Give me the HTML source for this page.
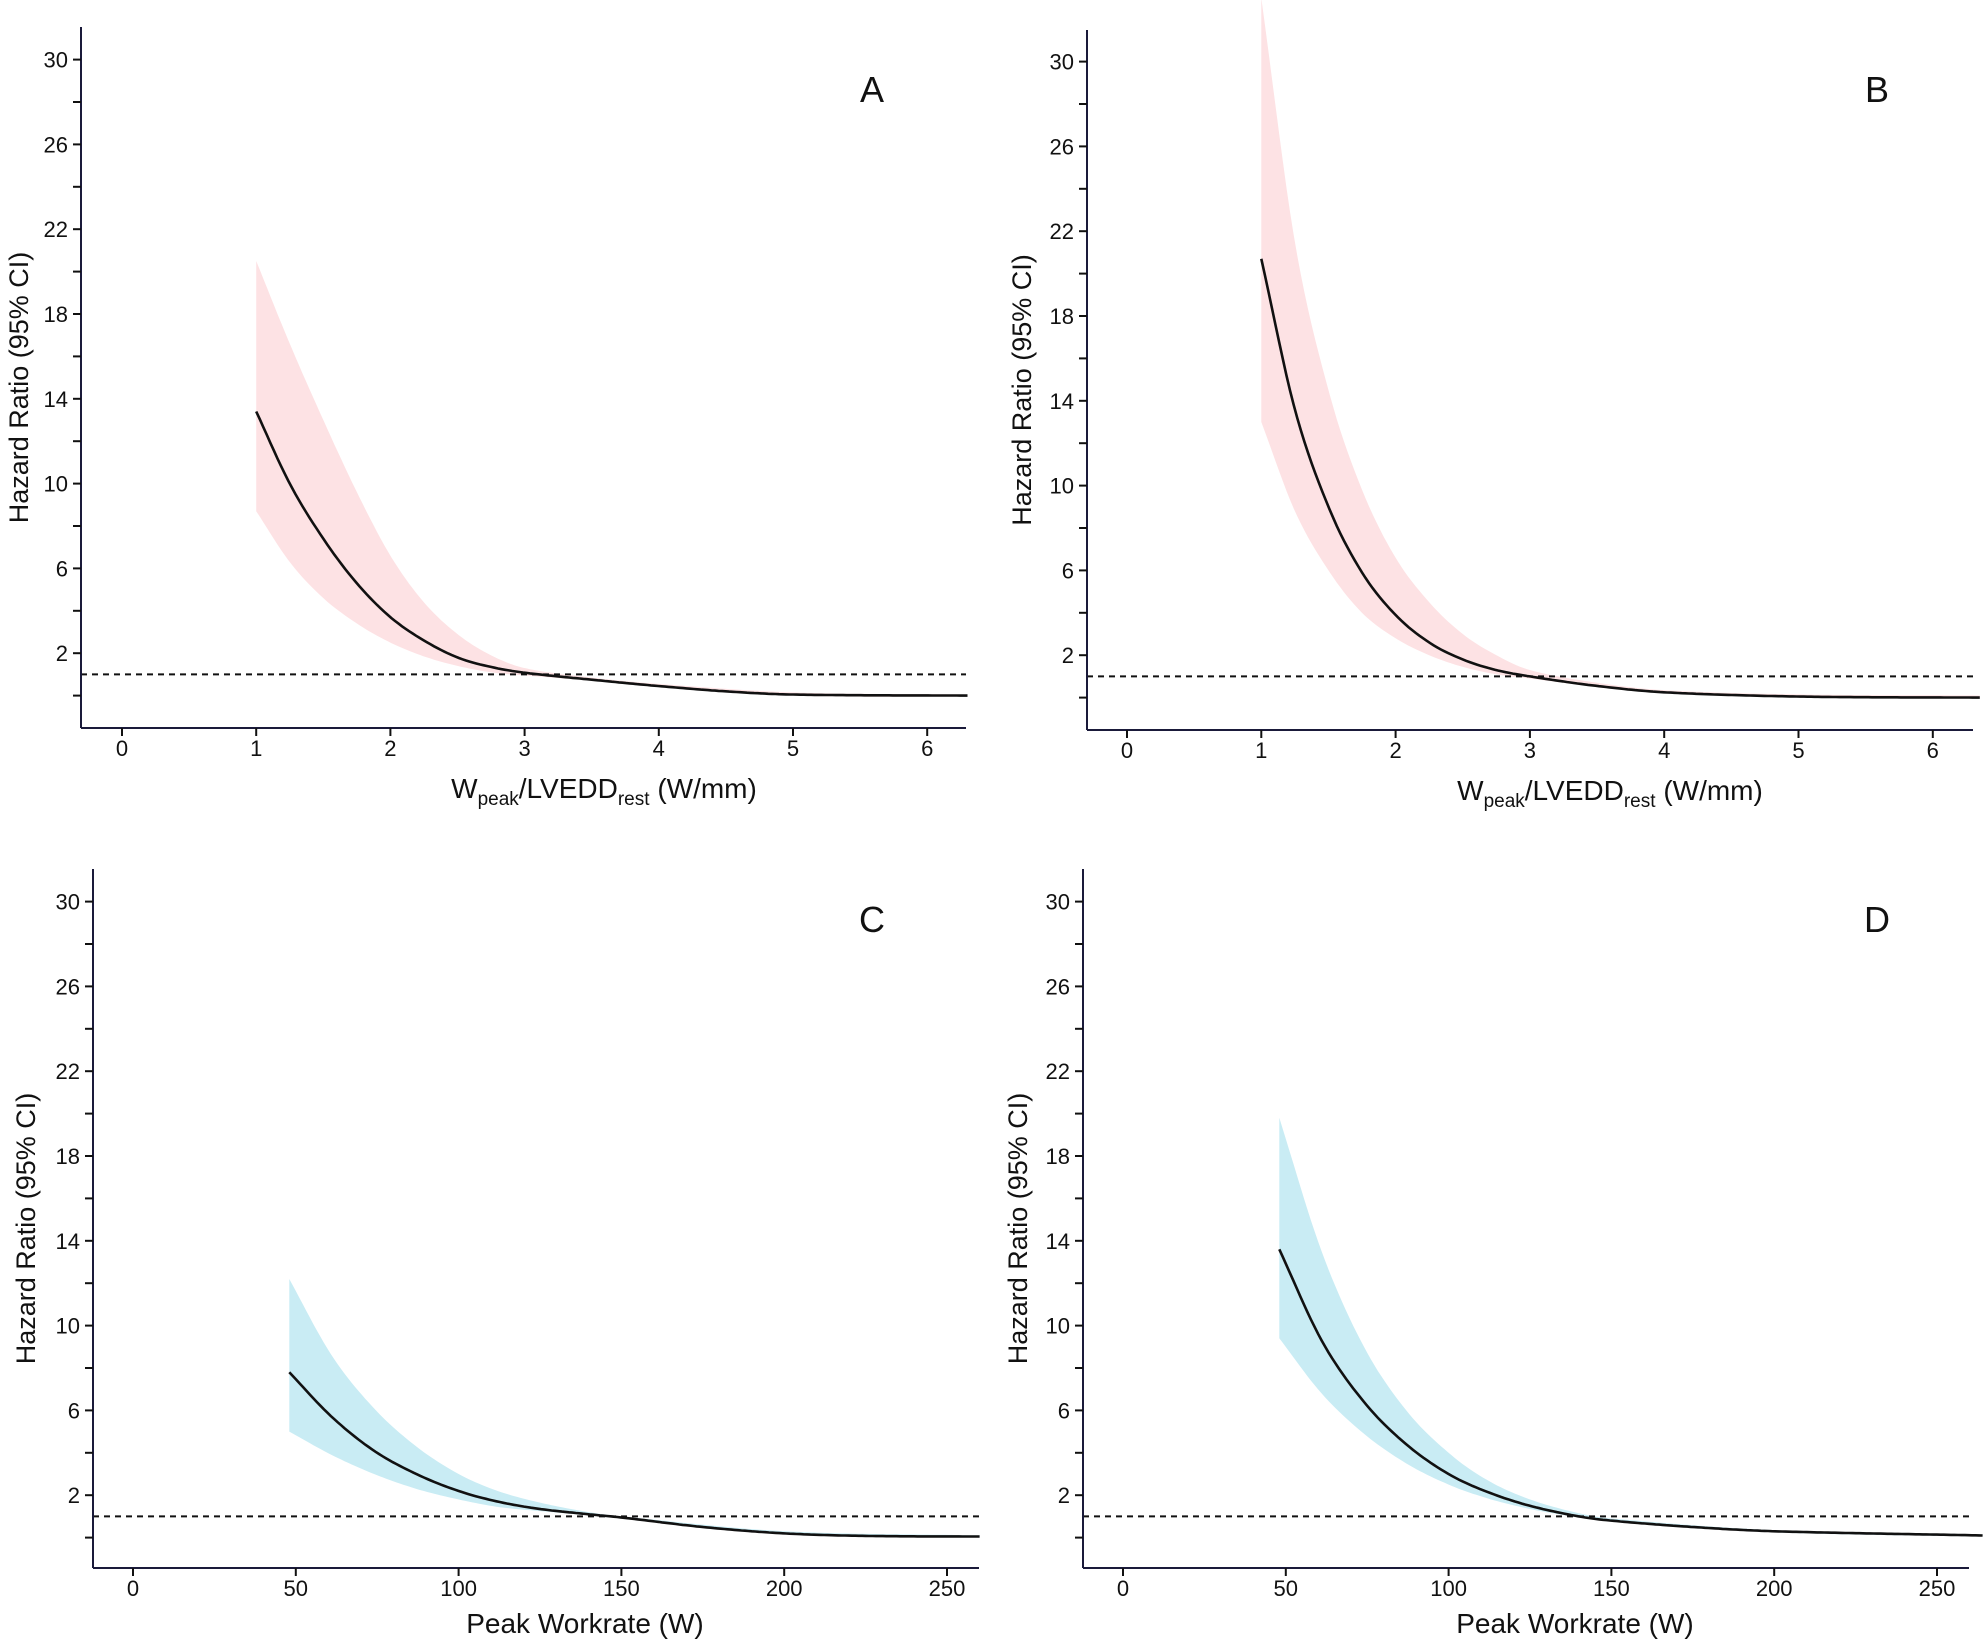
<!DOCTYPE html>
<html><head><meta charset="utf-8"><style>
html,body{margin:0;padding:0;background:#fff;}
svg{display:block;}
text{font-family:"Liberation Sans",Arial,sans-serif;fill:#111;}
</style></head><body>
<svg id="s" width="1984" height="1642" viewBox="0 0 1984 1642" xmlns="http://www.w3.org/2000/svg"></svg>
<script>
const S=document.getElementById('s');
let out='';
function interp(pts,x){for(let i=0;i<pts.length-1;i++){const a=pts[i],b=pts[i+1];if(x>=a[0]&&x<=b[0]){const m0=i>0?(b[1]-pts[i-1][1])/(b[0]-pts[i-1][0]):(b[1]-a[1])/(b[0]-a[0]);const m1=i<pts.length-2?(pts[i+2][1]-a[1])/(pts[i+2][0]-a[0]):(b[1]-a[1])/(b[0]-a[0]);const h=b[0]-a[0],t=(x-a[0])/h;const t2=t*t,t3=t2*t;return (2*t3-3*t2+1)*a[1]+(t3-2*t2+t)*h*m0+(-2*t3+3*t2)*b[1]+(t3-t2)*h*m1;}}return pts[pts.length-1][1];}
function panel(p){
 const X=v=>p.x0+(v)*p.xs, Y=v=>p.y0-v*21.2;
 const x1=p.xstart,x2=p.xend,n=200;
 let up=[],lo=[],ln=[];
 for(let i=0;i<=n;i++){const x=x1+(x2-x1)*i/n;up.push(X(x).toFixed(1)+','+Y(interp(p.up,x)).toFixed(1));lo.push(X(x).toFixed(1)+','+Y(interp(p.lo,x)).toFixed(1));ln.push(X(x).toFixed(1)+','+Y(interp(p.ln,x)).toFixed(1));}
 out+=`<polygon points="${up.join(' ')} ${lo.reverse().join(' ')}" fill="${p.fill}"/>`;
 out+=`<line x1="${p.ax}" y1="${Y(1)}" x2="${p.right}" y2="${Y(1)}" stroke="#111" stroke-width="2" stroke-dasharray="6,5"/>`;
 out+=`<polyline points="${ln.join(' ')}" fill="none" stroke="#111" stroke-width="2.6"/>`;
 out+=`<line x1="${p.ax}" y1="${p.top}" x2="${p.ax}" y2="${p.bot}" stroke="#1a1a3a" stroke-width="2"/>`;
 out+=`<line x1="${p.ax}" y1="${p.bot}" x2="${p.right}" y2="${p.bot}" stroke="#1a1a3a" stroke-width="2"/>`;
 for(let v=0;v<=30;v+=2){const y=Y(v);out+=`<line x1="${p.ax-8}" y1="${y}" x2="${p.ax}" y2="${y}" stroke="#111" stroke-width="2"/>`;
  if((v-2)%4==0)out+=`<text x="${p.ax-13}" y="${y+8}" font-size="22" text-anchor="end">${v}</text>`;}
 p.xt.forEach(v=>{const x=X(v);out+=`<line x1="${x}" y1="${p.bot}" x2="${x}" y2="${p.bot+8}" stroke="#111" stroke-width="2"/><text x="${x}" y="${p.bot+28}" font-size="22" text-anchor="middle">${v}</text>`;});
 out+=`<text x="${p.letx}" y="${p.lety+13}" font-size="36" text-anchor="middle">${p.letter}</text>`;
 out+=`<text transform="translate(${p.ytx},${(p.top+p.bot)/2+10}) rotate(-90)" font-size="27" text-anchor="middle">Hazard Ratio (95% CI)</text>`;
 out+=`<text x="${p.xtx}" y="${p.bot+p.tty}" font-size="28" text-anchor="middle">${p.xtitle}</text>`;
}
const wt='W<tspan font-size="19" dy="7">peak</tspan><tspan dy="-7">/LVEDD</tspan><tspan font-size="19" dy="7">rest</tspan><tspan dy="-7"> (W/mm)</tspan>';
panel({x0:122,xs:134.2,y0:695.6,ax:81,top:27,bot:728,right:966,xstart:1,xend:6.3,fill:"#fde2e4",tty:70,
 ln:[[1,13.4],[1.25,10],[1.5,7.4],[1.75,5.3],[2,3.7],[2.25,2.6],[2.5,1.8],[2.75,1.35],[3,1.08],[3.5,0.75],[4,0.45],[4.5,0.2],[5,0.05],[6.3,0]],
 up:[[1,20.5],[1.25,16.6],[1.5,13],[1.75,9.6],[2,6.6],[2.25,4.4],[2.5,2.9],[2.75,1.9],[3,1.3],[3.5,0.85],[4,0.55],[5,0.15],[6.3,0.05]],
 lo:[[1,8.7],[1.25,6.3],[1.5,4.6],[1.75,3.4],[2,2.5],[2.25,1.85],[2.5,1.4],[2.75,1.1],[3,0.95],[3.5,0.7],[4,0.4],[5,0],[6.3,-0.05]],
 xt:[0,1,2,3,4,5,6],letter:"A",letx:872,lety:89,ytx:28,xtx:604,xtitle:wt});
panel({x0:1127,xs:134.3,y0:697.6,ax:1087,top:30,bot:730,right:1973,xstart:1,xend:6.35,fill:"#fde2e4",tty:70,
 ln:[[1,20.7],[1.25,13.6],[1.5,9],[1.75,5.9],[2,3.9],[2.25,2.6],[2.5,1.8],[2.75,1.3],[3,1.0],[3.5,0.55],[4,0.25],[5,0.05],[6.35,0]],
 up:[[1,33],[1.25,21.5],[1.5,14.5],[1.75,9.8],[2,6.6],[2.25,4.5],[2.5,3],[2.75,2],[3,1.3],[3.5,0.7],[4,0.35],[5,0.15],[6.35,0.1]],
 lo:[[1,13],[1.25,8.8],[1.5,6],[1.75,4],[2,2.8],[2.25,2],[2.5,1.45],[2.75,1.1],[3,0.9],[3.5,0.5],[4,0.2],[5,0],[6.35,-0.05]],
 xt:[0,1,2,3,4,5,6],letter:"B",letx:1877,lety:89,ytx:1031,xtx:1610,xtitle:wt});
panel({x0:133,xs:3.256,y0:1537.6,ax:93,top:869,bot:1568,right:979,xstart:48,xend:260,fill:"#c9ecf4",tty:65,
 ln:[[48,7.8],[61,5.7],[74,4.1],[87,3.0],[100,2.2],[112,1.7],[125,1.35],[140,1.1],[150,0.95],[175,0.5],[200,0.2],[225,0.08],[262,0.05]],
 up:[[48,12.2],[61,8.6],[74,6.1],[87,4.3],[100,3.0],[112,2.2],[125,1.65],[140,1.2],[150,1.0],[200,0.3],[262,0.1]],
 lo:[[48,5.0],[61,3.9],[74,3.0],[87,2.3],[100,1.8],[112,1.45],[125,1.25],[140,1.05],[150,0.9],[200,0.15],[262,0]],
 xt:[0,50,100,150,200,250],letter:"C",letx:872,lety:919,ytx:35,xtx:585,xtitle:"Peak Workrate (W)"});
panel({x0:1123,xs:3.256,y0:1537.6,ax:1083,top:869,bot:1568,right:1969,xstart:48,xend:264,fill:"#c9ecf4",tty:65,
 ln:[[48,13.6],[61,9.3],[74,6.4],[87,4.4],[100,3.0],[112,2.15],[125,1.5],[140,1.0],[150,0.8],[175,0.5],[200,0.3],[264,0.1]],
 up:[[48,19.8],[61,13.5],[74,9.0],[87,6.0],[100,4.0],[112,2.7],[125,1.8],[140,1.15],[150,0.9],[200,0.35],[264,0.15]],
 lo:[[48,9.4],[61,6.8],[74,4.9],[87,3.5],[100,2.5],[112,1.85],[125,1.35],[140,0.95],[150,0.75],[200,0.25],[264,0.05]],
 xt:[0,50,100,150,200,250],letter:"D",letx:1877,lety:919,ytx:1027,xtx:1575,xtitle:"Peak Workrate (W)"});
S.innerHTML=out;
</script>
</body></html>
